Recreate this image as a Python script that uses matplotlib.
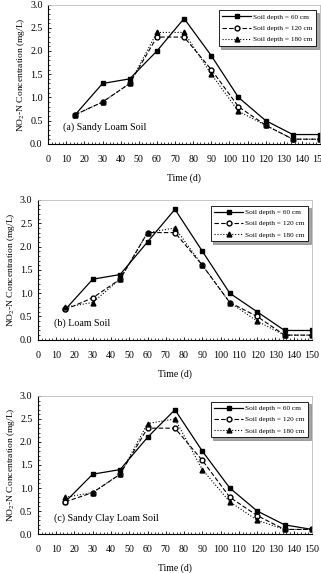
import numpy as np
import matplotlib
matplotlib.use('Agg')
import matplotlib.pyplot as plt
from matplotlib.ticker import MultipleLocator

plt.rcParams['font.family'] = ['Liberation Serif', 'DejaVu Serif']
plt.rcParams['mathtext.fontset'] = 'stix'

days = [15, 30, 45, 60, 75, 90, 105, 120, 135, 150]
labels = ['Soil depth = 60 cm', 'Soil depth = 120 cm', 'Soil depth = 180 cm']
titles = ['(a) Sandy Loam Soil', '(b) Loam Soil', '(c) Sandy Clay Loam Soil']

# NO2-N concentration (mg/L) for each soil and depth
sandy_loam_60 = [0.63, 1.3, 1.4, 2.0, 2.7, 1.9, 1.0, 0.5, 0.2, 0.2]
sandy_loam_120 = [0.63, 0.9, 1.3, 2.3, 2.3, 1.6, 0.8, 0.4, 0.1, 0.1]
sandy_loam_180 = [0.63, 0.9, 1.3, 2.4, 2.4, 1.5, 0.7, 0.4, 0.1, 0.1]

loam_60 = [0.65, 1.3, 1.4, 2.1, 2.8, 1.9, 1.0, 0.6, 0.2, 0.2]
loam_120 = [0.65, 0.9, 1.3, 2.3, 2.3, 1.6, 0.8, 0.5, 0.1, 0.1]
loam_180 = [0.7, 0.8, 1.3, 2.3, 2.4, 1.6, 0.8, 0.4, 0.1, 0.1]

sandy_clay_60 = [0.7, 1.3, 1.4, 2.1, 2.7, 1.8, 1.0, 0.5, 0.2, 0.1]
sandy_clay_120 = [0.7, 0.9, 1.3, 2.3, 2.3, 1.6, 0.8, 0.4, 0.1, 0.1]
sandy_clay_180 = [0.8, 0.9, 1.3, 2.4, 2.5, 1.4, 0.7, 0.3, 0.1, 0.1]

panels = [(sandy_loam_60, sandy_loam_120, sandy_loam_180),
          (loam_60, loam_120, loam_180),
          (sandy_clay_60, sandy_clay_120, sandy_clay_180)]

# axes rectangles (fig fraction)
rects = [[0.150, 0.749, 0.847, 0.243],
         [0.118, 0.407, 0.854, 0.244],
         [0.118, 0.068, 0.854, 0.241]]
title_x = [8, 9, 9]

fig = plt.figure(figsize=(3.21, 5.73), dpi=100)

for rect, data, title, tx in zip(rects, panels, titles, title_x):
    ax = fig.add_axes(rect)
    ax.plot(days, data[0], 'k-', marker='s', ms=3.5, lw=0.9, label=labels[0])
    ax.plot(days, data[1], 'k--', marker='o', ms=3.5, lw=0.8,
            mfc='white', dashes=(4, 2), label=labels[1])
    ax.plot(days, data[2], 'k:', marker='^', ms=3.5, lw=0.8, label=labels[2])

    ax.set_xlim(0, 150)
    ax.set_ylim(0, 3.0)
    ax.xaxis.set_major_locator(MultipleLocator(10))
    ax.xaxis.set_minor_locator(MultipleLocator(2))
    ax.yaxis.set_major_locator(MultipleLocator(0.5))
    ax.yaxis.set_minor_locator(MultipleLocator(0.1))
    ax.yaxis.set_major_formatter(plt.FormatStrFormatter('%.1f'))
    ax.tick_params(which='both', direction='in', labelsize=7.2,
                   top=False, right=False)
    ax.tick_params(which='major', length=2.5, width=0.6)
    ax.tick_params(which='minor', length=1.5, width=0.5)
    ax.tick_params(axis='x', pad=8)
    ax.tick_params(axis='y', pad=4)
    for s in ['top', 'right']:
        ax.spines[s].set_color('#bbbbbb')
        ax.spines[s].set_linewidth(0.6)
    for s in ['left', 'bottom']:
        ax.spines[s].set_linewidth(0.8)

    ax.set_xlabel('Time (d)', fontsize=7, labelpad=7)
    ax.set_ylabel('NO$_2$-N Concentration (mg/L)', fontsize=6.8, labelpad=2)
    ax.text(tx, 0.35, title, fontsize=7.2, va='center')

    leg = ax.legend(loc='upper right', fontsize=5.2, frameon=True,
                    fancybox=False, shadow=True, borderpad=0.5,
                    handlelength=4, labelspacing=0.7, handletextpad=0.3,
                    bbox_to_anchor=(1.0, 0.985))
    leg.get_frame().set_edgecolor('black')
    leg.get_frame().set_linewidth(0.6)

fig.savefig('out.png', dpi=100)
